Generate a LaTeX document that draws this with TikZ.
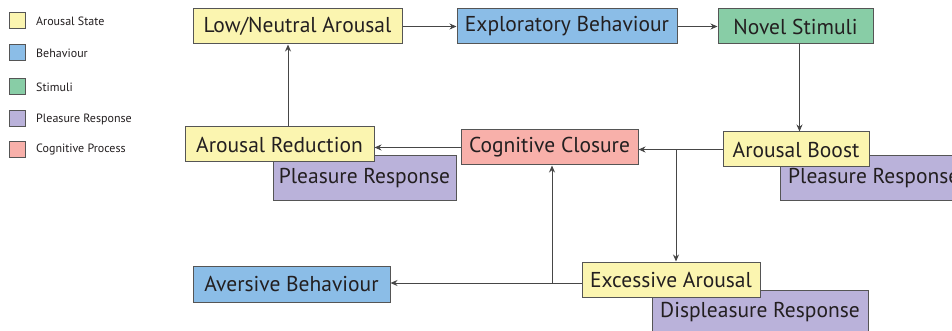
\documentclass[tikz,border=0pt]{standalone}
\usepackage{fontspec}
\setmainfont{PT Sans}
\usetikzlibrary{arrows.meta,calc}
\definecolor{cyel}{RGB}{251,245,176}
\definecolor{cblu}{RGB}{139,189,231}
\definecolor{cgrn}{RGB}{136,205,166}
\definecolor{cpur}{RGB}{186,178,218}
\definecolor{cpnk}{RGB}{248,176,170}
\definecolor{cbrd}{RGB}{85,85,85}
\definecolor{ctxt}{RGB}{35,31,32}
\definecolor{cline}{RGB}{70,70,70}
\tikzset{
  box/.style={draw=cbrd,line width=1pt,inner sep=0pt,text=ctxt,font=\fontsize{21.5}{24}\selectfont},
  leg/.style={draw=cbrd,line width=1pt,inner sep=0pt,minimum width=16pt,minimum height=16pt},
  legtxt/.style={anchor=west,inner sep=0pt,text=ctxt,font=\fontsize{12}{14}\selectfont},
  arr/.style={draw=cline,line width=1pt,-{Stealth[length=7pt,width=6pt]}},
  ln/.style={draw=cline,line width=1pt}
}
\begin{document}
\begin{tikzpicture}[x=1pt,y=-1pt]
\clip (0,0) rectangle (952,331);
\fill[white] (0,0) rectangle (952,331);
% legend
\node[leg,fill=cyel] (l1) at (17,21) {};
\node[leg,fill=cblu] (l2) at (17,53) {};
\node[leg,fill=cgrn] (l3) at (17,87) {};
\node[leg,fill=cpur] (l4) at (17,119) {};
\node[leg,fill=cpnk] (l5) at (17,150) {};
\node[legtxt] (t1) at (36,21) {Arousal State};
\node[legtxt] (t2) at (36,53) {Behaviour};
\node[legtxt] (t3) at (36,87) {Stimuli};
\node[legtxt] (t4) at (36,119) {Pleasure Response};
\node[legtxt] (t5) at (36,150) {Cognitive Process};
% purple response boxes (behind)
\node[box,fill=cpur,minimum width=183pt,minimum height=44pt] (pr1) at (364.5,178) {Pleasure Response};
\node[box,fill=cpur,minimum width=183pt,minimum height=44pt] (pr2) at (871.5,178) {};
\node[anchor=west,inner sep=0pt,text=ctxt,font=\fontsize{21.5}{24}\selectfont] (pr2t) at (788,178) {Pleasure Response};
\node[box,fill=cpur,minimum width=216pt,minimum height=44pt] (dr) at (760,312) {Displeasure Response};
% main boxes
\node[box,fill=cyel,minimum width=209pt,minimum height=35pt] (low) at (297.5,26.5) {Low/Neutral Arousal};
\node[box,fill=cblu,minimum width=220pt,minimum height=35pt] (exp) at (567,26.5) {Exploratory Behaviour};
\node[box,fill=cgrn,minimum width=155pt,minimum height=35pt] (nov) at (795.5,26.5) {Novel Stimuli};
\node[box,fill=cyel,minimum width=146pt,minimum height=35pt] (boost) at (796,149.5) {Arousal Boost};
\node[box,fill=cpnk,minimum width=177pt,minimum height=35pt] (cc) at (549.5,147.5) {Cognitive Closure};
\node[box,fill=cyel,minimum width=189pt,minimum height=35pt] (ar) at (279.5,144.5) {Arousal Reduction};
\node[box,fill=cyel,minimum width=178pt,minimum height=35pt] (ex) at (671,279.5) {Excessive Arousal};
\node[box,fill=cblu,minimum width=197pt,minimum height=36pt] (av) at (291.5,284) {Aversive Behaviour};
% connectors
\draw[arr] (low.east) -- (exp.west);
\draw[arr] (exp.east) -- (nov.west);
\draw[arr] ([xshift=4pt]nov.south) -- ([xshift=4pt]nov.south |- boost.north);
\draw[arr] (boost.west) -- (boost.west -| cc.east);
\coordinate (j1) at (676,149.5);
\draw[arr] (j1) -- (j1 |- ex.north);
\draw[arr] (cc.west) -- (cc.west -| ar.east);
\draw[arr] ([xshift=8.5pt]ar.north) -- ([xshift=8.5pt]ar.north |- low.south);
\coordinate (j3) at (582,283);
\draw[arr] (j3) -- (j3 -| av.east);
\coordinate (j2) at (552,283);
\draw[arr] (j2) -- (j2 |- cc.south);
\end{tikzpicture}
\end{document}
